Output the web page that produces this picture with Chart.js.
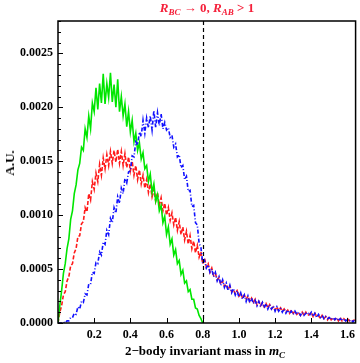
<!DOCTYPE html>
<html>
<head>
<meta charset="utf-8">
<script src="https://cdn.jsdelivr.net/npm/chart.js@4"></script>
<style>
  body { margin: 0; background: #fff; }
  #wrap { position: relative; width: 360px; height: 363px; font-family: 'Liberation Serif', 'DejaVu Serif', serif; }
  #chart { position: absolute; left: 0; top: 0; }
  .lbl { position: absolute; white-space: nowrap; font-weight: bold; color: #000; }
  #title { left: 207px; top: 0px; transform: translateX(-50%); color: #f5203a; font-size: 13px; }
  #xlabel { left: 205px; top: 343px; transform: translateX(-50%); font-size: 13px; }
  #ylabel { left: 10px; top: 163px; transform: translate(-50%, -50%) rotate(-90deg); font-size: 13px; }
  sub { font-size: 9px; vertical-align: -3px; }
</style>
</head>
<body>
<div id="wrap">
  <canvas id="chart" width="360" height="363"></canvas>
  <div id="title" class="lbl"><i>R</i><sub><i>BC</i></sub> → 0, <i>R</i><sub><i>AB</i></sub> &gt; 1</div>
  <div id="xlabel" class="lbl">2−body invariant mass in <i>m</i><sub><i>C</i></sub></div>
  <div id="ylabel" class="lbl">A.U.</div>
</div>
<script>
// bin width in m_C, values below are in units of 1e-5
const binWidth = 0.01;
const cutoff = 0.8;
const xMax = 1.645;
const yMax = 0.0028;
const xTickLabels = ['0.2', '0.4', '0.6', '0.8', '1.0', '1.2', '1.4', '1.6'];

const greenVals = [
  0, 16, 30, 46, 55, 69, 78, 96, 104, 120,
  128, 142, 148, 163, 160, 180, 172, 192, 180, 204,
  196, 218, 198, 222, 204, 231, 203, 222, 209, 232,
  205, 221, 200, 226, 196, 210, 192, 203, 182, 196,
  177, 188, 168, 176, 160, 167, 152, 158, 143, 146,
  131, 138, 121, 129, 113, 119, 104, 109, 93, 99,
  82, 89, 73, 78, 63, 68, 55, 58, 45, 49,
  37, 39, 29, 31, 22, 22, 14, 13, 7, 4, 0
];

const redVals = [
  0, 10, 16, 26, 29, 39, 43, 53, 55, 65,
  69, 80, 81, 92, 94, 107, 103, 120, 114, 131,
  124, 139, 131, 147, 137, 153, 143, 156, 146, 159,
  148, 160, 149, 161, 148, 159, 146, 157, 144, 154,
  141, 150, 137, 146, 133, 142, 129, 137, 125, 133,
  121, 129, 117, 124, 113, 121, 109, 116, 104, 111,
  100, 107, 95, 102, 91, 98, 86, 94, 82, 89,
  77, 85, 73, 81, 69, 76, 65, 72, 61, 66,
  55, 60, 52, 55, 47, 51, 44, 46, 40, 42,
  36, 39, 34, 36, 31, 34, 29, 31, 27, 30,
  25, 28, 23, 26, 22, 25, 20, 23, 19, 22,
  17, 20, 16, 19, 15, 18, 14, 17, 13, 15,
  12, 15, 11, 14, 11, 13, 10, 12, 9, 12,
  9, 11, 8, 10, 7, 10, 7, 10, 7, 8,
  10, 6, 9, 6, 7, 4, 7, 4, 6, 3,
  6, 3, 5, 3, 5, 2, 5, 2, 4, 2,
  4, 2, 3, 2, 3
];

const blueVals = [
  0, 0, 0, 1, 0, 2, 2, 5, 5, 9,
  8, 15, 13, 20, 19, 27, 26, 36, 36, 47,
  46, 56, 55, 66, 63, 75, 73, 86, 82, 97,
  93, 107, 102, 117, 111, 125, 120, 134, 130, 140,
  141, 155, 154, 168, 165, 177, 173, 188, 176, 190,
  181, 192, 179, 197, 181, 195, 183, 194, 180, 186,
  179, 181, 172, 174, 163, 166, 154, 156, 144, 146,
  133, 136, 122, 123, 108, 109, 93, 91, 74, 70,
  55, 58, 51, 54, 47, 50, 43, 47, 39, 43,
  35, 40, 33, 37, 30, 35, 28, 32, 26, 30,
  24, 28, 22, 26, 20, 25, 19, 23, 18, 21,
  16, 20, 15, 19, 14, 18, 13, 17, 13, 16,
  11, 15, 11, 14, 10, 13, 9, 12, 9, 11,
  8, 11, 8, 10, 7, 10, 7, 9, 10, 7,
  10, 6, 9, 5, 8, 5, 7, 4, 6, 4,
  5, 3, 5, 3, 5, 2, 4, 2, 4, 2,
  3, 2, 3, 1, 3
];

function toPoints(vals) {
  return vals.map((v, i) => ({ x: i * binWidth, y: v * 1e-5 }));
}

// frame, inward ticks and the dashed cutoff line
const framePlugin = {
  id: 'frame',
  afterDatasetsDraw(chart) {
    const ctx = chart.ctx;
    const a = chart.chartArea;
    const xs = chart.scales.x;
    const ys = chart.scales.y;
    ctx.save();

    const cx = Math.round(xs.getPixelForValue(cutoff)) + 0.5;
    ctx.strokeStyle = '#000';
    ctx.lineWidth = 1.2;
    ctx.setLineDash([4, 3]);
    ctx.beginPath();
    ctx.moveTo(cx, a.top);
    ctx.lineTo(cx, a.bottom);
    ctx.stroke();
    ctx.setLineDash([]);

    ctx.lineWidth = 1.5;
    ctx.strokeRect(a.left, a.top, a.right - a.left, a.bottom - a.top);

    ctx.lineWidth = 1;
    ctx.beginPath();
    ys.ticks.forEach(t => {
      const py = Math.round(ys.getPixelForValue(t.value)) + 0.5;
      const major = Math.round(t.value * 1e4) % 5 === 0;
      ctx.moveTo(a.left, py);
      ctx.lineTo(a.left + (major ? 5 : 3), py);
    });
    xs.ticks.forEach(t => {
      const px = Math.round(xs.getPixelForValue(t.value)) + 0.5;
      ctx.moveTo(px, a.bottom);
      ctx.lineTo(px, a.bottom - 5);
    });
    ctx.stroke();
    ctx.restore();
  }
};

const tickFont = { family: "'Liberation Serif', 'DejaVu Serif', serif", size: 12, weight: 'bold' };

new Chart(document.getElementById('chart'), {
  type: 'line',
  data: {
    datasets: [{
      label: 'blue',
      data: toPoints(blueVals),
      borderColor: '#1010ff',
      borderWidth: 1.6,
      borderDash: [4, 2, 1, 2]
    }, {
      label: 'green',
      data: toPoints(greenVals),
      borderColor: '#00e600',
      borderWidth: 1.6
    }, {
      label: 'red',
      data: toPoints(redVals),
      borderColor: '#ff1a1a',
      borderWidth: 1.6,
      borderDash: [4, 2]
    }]
  },
  options: {
    responsive: false,
    animation: false,
    layout: { padding: { top: 21, right: 2, left: 0, bottom: 0 } },
    elements: { point: { radius: 0 }, line: { tension: 0 } },
    plugins: { legend: { display: false }, tooltip: { enabled: false } },
    scales: {
      x: {
        type: 'linear',
        min: 0,
        max: xMax,
        border: { display: false },
        grid: { display: false, drawTicks: false },
        afterFit(scale) { scale.height = 40; },
        afterBuildTicks(scale) {
          scale.ticks = xTickLabels.map(s => ({ value: parseFloat(s) }));
        },
        ticks: {
          autoSkip: false,
          maxRotation: 0,
          padding: 5,
          color: '#000',
          font: tickFont,
          callback: v => xTickLabels.find(s => Math.abs(parseFloat(s) - v) < 1e-6) || ''
        }
      },
      y: {
        min: 0,
        max: yMax,
        border: { display: false },
        grid: { display: false, drawTicks: false },
        afterFit(scale) { scale.width = 58; },
        ticks: {
          stepSize: 0.0001,
          autoSkip: false,
          padding: 5,
          color: '#000',
          font: tickFont,
          callback: v => (Math.round(v * 1e4) % 5 === 0 ? v.toFixed(4) : '')
        }
      }
    }
  },
  plugins: [framePlugin]
});
</script>
</body>
</html>
